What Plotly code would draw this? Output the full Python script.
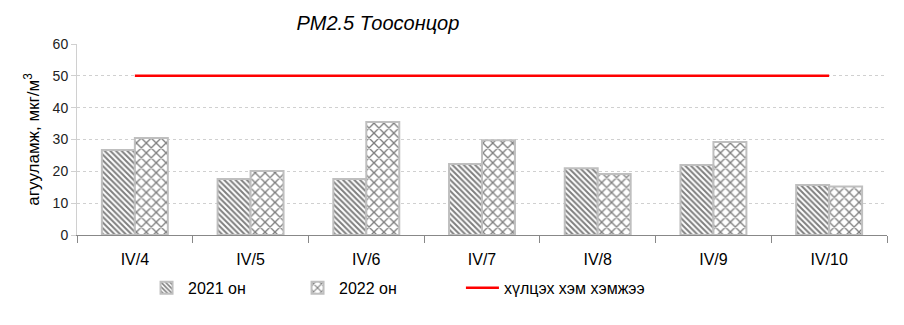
import plotly.graph_objects as go

categories = ["IV/4", "IV/5", "IV/6", "IV/7", "IV/8", "IV/9", "IV/10"]
values_2021 = [26.7, 17.6, 17.6, 22.3, 21.0, 22.0, 15.7]
values_2022 = [30.5, 20.1, 35.5, 29.8, 19.2, 29.2, 15.2]
limit_values = [50, 50, 50, 50, 50, 50, 50]
y_ticks = [0, 10, 20, 30, 40, 50, 60]

fig = go.Figure()
fig.add_trace(go.Bar(
    x=categories, y=values_2021, name="2021 он", legend="legend",
    marker=dict(color="white", line=dict(color="#bfbfbf", width=2),
                pattern=dict(shape="\\", fgcolor="black", bgcolor="white", size=4, solidity=0.5)),
))
fig.add_trace(go.Bar(
    x=categories, y=values_2022, name="2022 он", legend="legend",
    marker=dict(color="white", line=dict(color="#bfbfbf", width=2),
                pattern=dict(shape="x", fgcolor="black", bgcolor="white", size=7, solidity=0.35)),
))
fig.add_trace(go.Scatter(
    x=categories, y=limit_values, name="хүлцэх хэм хэмжээ", mode="lines", legend="legend2",
    line=dict(color="red", width=2.5),
))

fig.update_layout(
    width=904, height=325,
    margin=dict(l=77, r=17, t=44, b=90),
    plot_bgcolor="white", paper_bgcolor="white",
    font=dict(family="Liberation Sans, Arial", color="black"),
    barmode="group", bargap=0.43, bargroupgap=0,
    title=dict(text="<i>PM2.5 Тоосонцор</i>", x=0.418, xanchor="center", y=0.93, yanchor="middle",
               font=dict(size=20)),
    legend=dict(orientation="h", x=0.084, xanchor="left",
                y=-0.277, yanchor="middle",
                font=dict(size=16), itemwidth=33, traceorder="normal",
                entrywidth=103, entrywidthmode="pixels"),
    legend2=dict(orientation="h", x=0.474, xanchor="left",
                 y=-0.277, yanchor="middle",
                 font=dict(size=16), itemwidth=33),
    showlegend=True,
)
fig.update_xaxes(
    showline=True, linecolor="#888888", linewidth=1,
    ticks="outside", tickson="boundaries", ticklen=7, tickcolor="#888888",
    tickfont=dict(size=16), showgrid=False, ticklabelstandoff=10,
)
fig.update_yaxes(
    range=[0, 60], tickvals=y_ticks, showline=True, linecolor="#d0d0d0", linewidth=1,
    ticks="outside", ticklen=5, tickcolor="#d0d0d0",
    showgrid=True, gridcolor="#d0d0d0", griddash="dot", gridwidth=1,
    tickfont=dict(size=14, color="#222222"), zeroline=False,
    title=dict(text="агууламж, мкг/м<sup>3</sup>", font=dict(size=17), standoff=8),
)

fig.write_html("out.html")
